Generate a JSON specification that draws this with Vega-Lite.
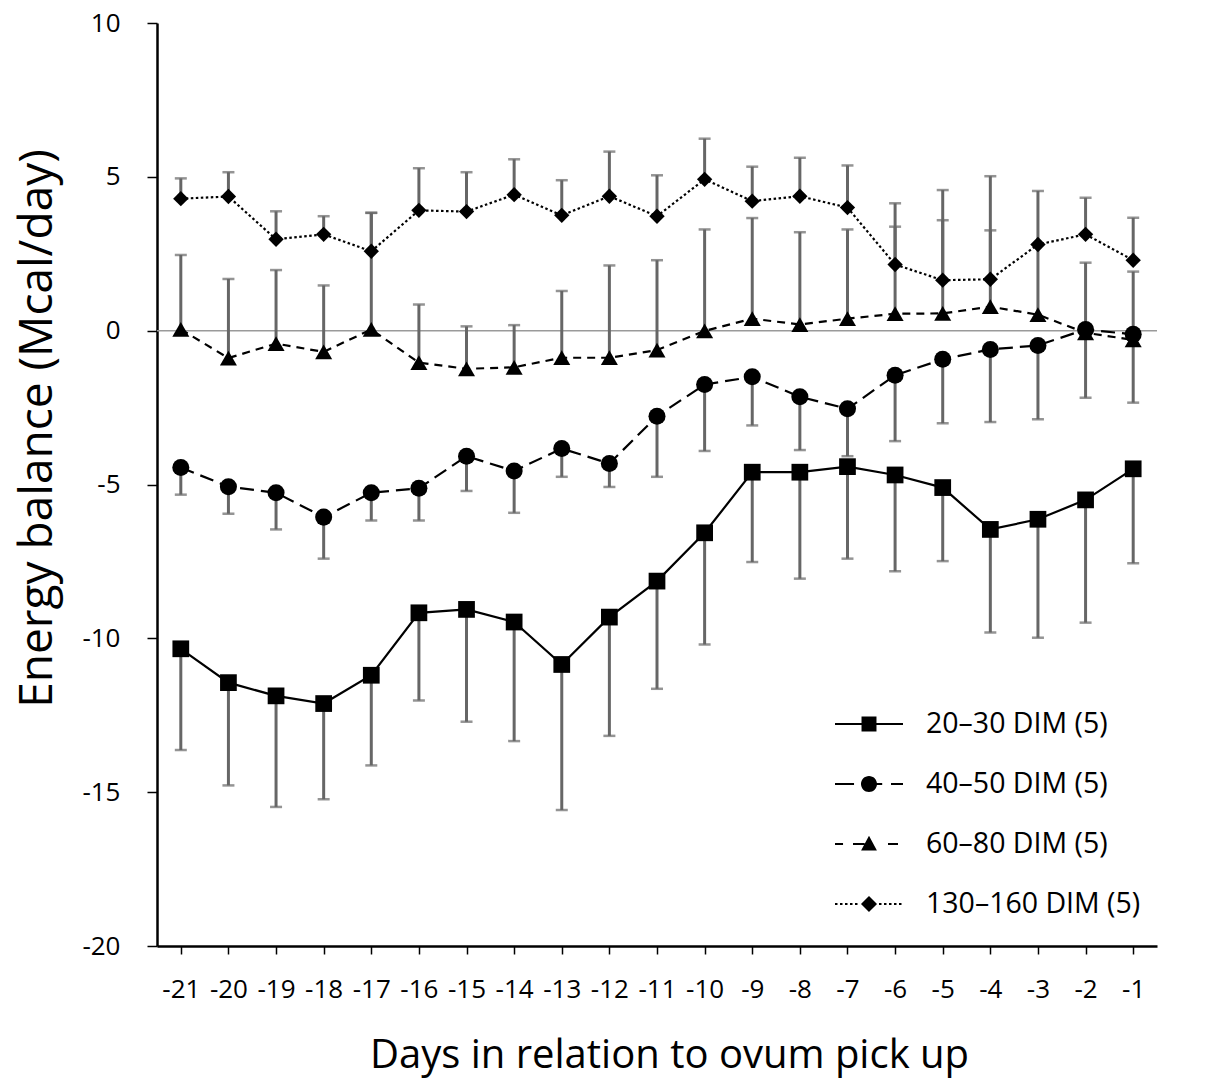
{
  "$schema": "https://vega.github.io/schema/vega-lite/v6.json",
  "width": 1000,
  "height": 923,
  "autosize": {"type": "none"},
  "padding": {"left": 157, "top": 23, "right": 55, "bottom": 133},
  "config": {
    "font": "Open Sans",
    "view": {"stroke": null},
    "axis": {"labelColor": "black", "titleColor": "black", "titleFontWeight": "normal", "grid": false}
  },
  "datasets": {
    "eb": [
      {"day": -21, "group": "20–30 DIM (5)", "mean": -10.34, "bar": -13.63},
      {"day": -20, "group": "20–30 DIM (5)", "mean": -11.44, "bar": -14.78},
      {"day": -19, "group": "20–30 DIM (5)", "mean": -11.87, "bar": -15.48},
      {"day": -18, "group": "20–30 DIM (5)", "mean": -12.12, "bar": -15.23},
      {"day": -17, "group": "20–30 DIM (5)", "mean": -11.2, "bar": -14.13},
      {"day": -16, "group": "20–30 DIM (5)", "mean": -9.17, "bar": -12.02},
      {"day": -15, "group": "20–30 DIM (5)", "mean": -9.06, "bar": -12.71},
      {"day": -14, "group": "20–30 DIM (5)", "mean": -9.47, "bar": -13.34},
      {"day": -13, "group": "20–30 DIM (5)", "mean": -10.85, "bar": -15.58},
      {"day": -12, "group": "20–30 DIM (5)", "mean": -9.31, "bar": -13.17},
      {"day": -11, "group": "20–30 DIM (5)", "mean": -8.14, "bar": -11.64},
      {"day": -10, "group": "20–30 DIM (5)", "mean": -6.57, "bar": -10.2},
      {"day": -9, "group": "20–30 DIM (5)", "mean": -4.6, "bar": -7.52},
      {"day": -8, "group": "20–30 DIM (5)", "mean": -4.6, "bar": -8.06},
      {"day": -7, "group": "20–30 DIM (5)", "mean": -4.42, "bar": -7.41},
      {"day": -6, "group": "20–30 DIM (5)", "mean": -4.69, "bar": -7.82},
      {"day": -5, "group": "20–30 DIM (5)", "mean": -5.1, "bar": -7.49},
      {"day": -4, "group": "20–30 DIM (5)", "mean": -6.46, "bar": -9.81},
      {"day": -3, "group": "20–30 DIM (5)", "mean": -6.13, "bar": -9.98},
      {"day": -2, "group": "20–30 DIM (5)", "mean": -5.5, "bar": -9.49},
      {"day": -1, "group": "20–30 DIM (5)", "mean": -4.49, "bar": -7.56},

      {"day": -21, "group": "40–50 DIM (5)", "mean": -4.45, "bar": -5.33},
      {"day": -20, "group": "40–50 DIM (5)", "mean": -5.07, "bar": -5.95},
      {"day": -19, "group": "40–50 DIM (5)", "mean": -5.27, "bar": -6.46},
      {"day": -18, "group": "40–50 DIM (5)", "mean": -6.06, "bar": -7.41},
      {"day": -17, "group": "40–50 DIM (5)", "mean": -5.27, "bar": -6.17},
      {"day": -16, "group": "40–50 DIM (5)", "mean": -5.12, "bar": -6.17},
      {"day": -15, "group": "40–50 DIM (5)", "mean": -4.08, "bar": -5.21},
      {"day": -14, "group": "40–50 DIM (5)", "mean": -4.56, "bar": -5.92},
      {"day": -13, "group": "40–50 DIM (5)", "mean": -3.83, "bar": -4.75},
      {"day": -12, "group": "40–50 DIM (5)", "mean": -4.32, "bar": -5.08},
      {"day": -11, "group": "40–50 DIM (5)", "mean": -2.78, "bar": -4.75},
      {"day": -10, "group": "40–50 DIM (5)", "mean": -1.75, "bar": -3.91},
      {"day": -9, "group": "40–50 DIM (5)", "mean": -1.5, "bar": -3.08},
      {"day": -8, "group": "40–50 DIM (5)", "mean": -2.15, "bar": -3.88},
      {"day": -7, "group": "40–50 DIM (5)", "mean": -2.54, "bar": -4.08},
      {"day": -6, "group": "40–50 DIM (5)", "mean": -1.45, "bar": -3.59},
      {"day": -5, "group": "40–50 DIM (5)", "mean": -0.93, "bar": -3.01},
      {"day": -4, "group": "40–50 DIM (5)", "mean": -0.61, "bar": -2.97},
      {"day": -3, "group": "40–50 DIM (5)", "mean": -0.48, "bar": -2.88},
      {"day": -2, "group": "40–50 DIM (5)", "mean": 0.04, "bar": -2.18},
      {"day": -1, "group": "40–50 DIM (5)", "mean": -0.12, "bar": -2.34},

      {"day": -21, "group": "60–80 DIM (5)", "mean": 0.04, "bar": 2.46},
      {"day": -20, "group": "60–80 DIM (5)", "mean": -0.89, "bar": 1.68},
      {"day": -19, "group": "60–80 DIM (5)", "mean": -0.42, "bar": 1.97},
      {"day": -18, "group": "60–80 DIM (5)", "mean": -0.69, "bar": 1.47},
      {"day": -17, "group": "60–80 DIM (5)", "mean": 0.04, "bar": 3.83},
      {"day": -16, "group": "60–80 DIM (5)", "mean": -1.04, "bar": 0.85},
      {"day": -15, "group": "60–80 DIM (5)", "mean": -1.24, "bar": 0.14},
      {"day": -14, "group": "60–80 DIM (5)", "mean": -1.19, "bar": 0.18},
      {"day": -13, "group": "60–80 DIM (5)", "mean": -0.88, "bar": 1.29},
      {"day": -12, "group": "60–80 DIM (5)", "mean": -0.88, "bar": 2.12},
      {"day": -11, "group": "60–80 DIM (5)", "mean": -0.63, "bar": 2.29},
      {"day": -10, "group": "60–80 DIM (5)", "mean": -0.01, "bar": 3.29},
      {"day": -9, "group": "60–80 DIM (5)", "mean": 0.39, "bar": 3.66},
      {"day": -8, "group": "60–80 DIM (5)", "mean": 0.2, "bar": 3.2},
      {"day": -7, "group": "60–80 DIM (5)", "mean": 0.39, "bar": 3.29},
      {"day": -6, "group": "60–80 DIM (5)", "mean": 0.55, "bar": 3.38},
      {"day": -5, "group": "60–80 DIM (5)", "mean": 0.56, "bar": 3.59},
      {"day": -4, "group": "60–80 DIM (5)", "mean": 0.78, "bar": 3.26},
      {"day": -3, "group": "60–80 DIM (5)", "mean": 0.52, "bar": 2.8},
      {"day": -2, "group": "60–80 DIM (5)", "mean": -0.07, "bar": 2.21},
      {"day": -1, "group": "60–80 DIM (5)", "mean": -0.3, "bar": 1.92},

      {"day": -21, "group": "130–160 DIM (5)", "mean": 4.29, "bar": 4.95},
      {"day": -20, "group": "130–160 DIM (5)", "mean": 4.36, "bar": 5.15},
      {"day": -19, "group": "130–160 DIM (5)", "mean": 2.97, "bar": 3.88},
      {"day": -18, "group": "130–160 DIM (5)", "mean": 3.13, "bar": 3.72},
      {"day": -17, "group": "130–160 DIM (5)", "mean": 2.58, "bar": 3.83},
      {"day": -16, "group": "130–160 DIM (5)", "mean": 3.91, "bar": 5.28},
      {"day": -15, "group": "130–160 DIM (5)", "mean": 3.87, "bar": 5.15},
      {"day": -14, "group": "130–160 DIM (5)", "mean": 4.42, "bar": 5.57},
      {"day": -13, "group": "130–160 DIM (5)", "mean": 3.75, "bar": 4.89},
      {"day": -12, "group": "130–160 DIM (5)", "mean": 4.37, "bar": 5.82},
      {"day": -11, "group": "130–160 DIM (5)", "mean": 3.72, "bar": 5.05},
      {"day": -10, "group": "130–160 DIM (5)", "mean": 4.92, "bar": 6.24},
      {"day": -9, "group": "130–160 DIM (5)", "mean": 4.21, "bar": 5.33},
      {"day": -8, "group": "130–160 DIM (5)", "mean": 4.37, "bar": 5.62},
      {"day": -7, "group": "130–160 DIM (5)", "mean": 4.0, "bar": 5.37},
      {"day": -6, "group": "130–160 DIM (5)", "mean": 2.15, "bar": 4.14},
      {"day": -5, "group": "130–160 DIM (5)", "mean": 1.64, "bar": 4.57},
      {"day": -4, "group": "130–160 DIM (5)", "mean": 1.67, "bar": 5.02},
      {"day": -3, "group": "130–160 DIM (5)", "mean": 2.8, "bar": 4.54},
      {"day": -2, "group": "130–160 DIM (5)", "mean": 3.13, "bar": 4.32},
      {"day": -1, "group": "130–160 DIM (5)", "mean": 2.29, "bar": 3.67}
    ]
  },
  "data": {"name": "eb"},
  "encoding": {
    "x": {
      "field": "day",
      "type": "ordinal",
      "scale": {"type": "point", "padding": 0.5},
      "axis": {
        "title": "Days in relation to ovum pick up",
        "titleFontSize": 40,
        "titlePadding": 33,
        "titleX": 512,
        "labelFontSize": 26,
        "labelAngle": 0,
        "labelPadding": 22,
        "tickSize": 8,
        "tickWidth": 1.5,
        "tickColor": "black",
        "domainColor": "black",
        "domainWidth": 2.5
      }
    },
    "y": {
      "field": "mean",
      "type": "quantitative",
      "scale": {"domain": [-20, 10], "nice": false, "zero": false},
      "axis": {
        "title": "Energy balance (Mcal/day)",
        "titleFontSize": 46,
        "titlePadding": 30,
        "titleY": 405,
        "titleBaseline": "alphabetic",
        "values": [-20, -15, -10, -5, 0, 5, 10],
        "labelExpr": "'' + datum.value",
        "labelFontSize": 26,
        "labelPadding": 27,
        "tickSize": 10,
        "tickWidth": 1.5,
        "tickColor": "black",
        "domainColor": "black",
        "domainWidth": 2.5
      }
    }
  },
  "layer": [
    {
      "data": {"values": [{"ref": 0}]},
      "mark": {"type": "rule", "color": "#9a9a9a", "strokeWidth": 1.5},
      "encoding": {"x": null, "y": {"field": "ref", "type": "quantitative"}}
    },
    {
      "mark": {"type": "rule", "color": "#666666", "strokeWidth": 3},
      "encoding": {"y2": {"field": "bar"}}
    },
    {
      "mark": {"type": "tick", "color": "#666666", "size": 12, "thickness": 2.5},
      "encoding": {"y": {"field": "bar", "type": "quantitative"}}
    },
    {
      "transform": [{"filter": {"field": "group", "equal": "20–30 DIM (5)"}}],
      "mark": {"type": "line", "color": "black", "strokeWidth": 2.2},
      "encoding": {}
    },
    {
      "transform": [{"filter": {"field": "group", "equal": "40–50 DIM (5)"}}],
      "mark": {"type": "line", "color": "black", "strokeWidth": 2.2, "strokeDash": [14, 7]},
      "encoding": {}
    },
    {
      "transform": [{"filter": {"field": "group", "equal": "60–80 DIM (5)"}}],
      "mark": {"type": "line", "color": "black", "strokeWidth": 2.2, "strokeDash": [8, 6]},
      "encoding": {}
    },
    {
      "transform": [{"filter": {"field": "group", "equal": "130–160 DIM (5)"}}],
      "mark": {"type": "line", "color": "black", "strokeWidth": 2.2, "strokeDash": [2.5, 2.5]},
      "encoding": {}
    },
    {
      "transform": [{"filter": {"field": "group", "equal": "20–30 DIM (5)"}}],
      "mark": {"type": "point", "filled": true, "color": "black", "opacity": 1, "shape": "square", "size": 280}
    },
    {
      "transform": [{"filter": {"field": "group", "equal": "40–50 DIM (5)"}}],
      "mark": {"type": "point", "filled": true, "color": "black", "opacity": 1, "shape": "circle", "size": 290}
    },
    {
      "transform": [{"filter": {"field": "group", "equal": "60–80 DIM (5)"}}],
      "mark": {"type": "point", "filled": true, "color": "black", "opacity": 1, "shape": "triangle-up", "size": 290}
    },
    {
      "transform": [{"filter": {"field": "group", "equal": "130–160 DIM (5)"}}],
      "mark": {"type": "point", "filled": true, "color": "black", "opacity": 1, "shape": "diamond", "size": 235}
    },
    {
      "transform": [{"filter": {"field": "day", "equal": 0}}],
      "mark": {"type": "point", "filled": true, "color": "black", "strokeWidth": 0, "opacity": 1},
      "encoding": {
        "shape": {
          "field": "group",
          "type": "nominal",
          "scale": {
            "domain": ["20–30 DIM (5)", "40–50 DIM (5)", "60–80 DIM (5)", "130–160 DIM (5)"],
            "range": [
              "M-1.545,-0.05H1.545V0.05H-1.545ZM-0.34,-0.34H0.34V0.34H-0.34Z",
              "M-1.545,-0.05H-0.68V0.05H-1.545ZM-0.3,-0.05H0.6V0.05H-0.3ZM1,-0.05H1.545V0.05H1ZM-0.364,0A0.364,0.364,0,1,1,0.364,0A0.364,0.364,0,1,1,-0.364,0Z",
              "M-1.545,-0.05H-1.18V0.05H-1.545ZM-0.727,-0.05H-0.2V0.05H-0.727ZM0.864,-0.05H1.318V0.05H0.864ZM0,-0.38L0.36,0.3L-0.36,0.3Z",
              "M-1.545,-0.05H-1.432V0.05H-1.545ZM-1.318,-0.05H-1.205V0.05H-1.318ZM-1.091,-0.05H-0.977V0.05H-1.091ZM-0.864,-0.05H-0.75V0.05H-0.864ZM-0.636,-0.05H-0.523V0.05H-0.636ZM0.455,-0.05H0.568V0.05H0.455ZM0.682,-0.05H0.795V0.05H0.682ZM0.909,-0.05H1.023V0.05H0.909ZM1.136,-0.05H1.25V0.05H1.136ZM1.364,-0.05H1.477V0.05H1.364ZM-0.364,0L0,-0.364L0.364,0L0,0.364Z"
            ]
          },
          "legend": {
            "title": null,
            "orient": "none",
            "legendX": 690,
            "legendY": 679,
            "symbolSize": 1936,
            "symbolStrokeWidth": 0,
            "symbolOpacity": 1,
            "symbolFillColor": "black",
            "labelFontSize": 28.5,
            "labelColor": "black",
            "labelLimit": 0,
            "labelOffset": 35,
            "rowPadding": 23,
            "symbolLimit": 0
          }
        }
      }
    }
  ]
}
